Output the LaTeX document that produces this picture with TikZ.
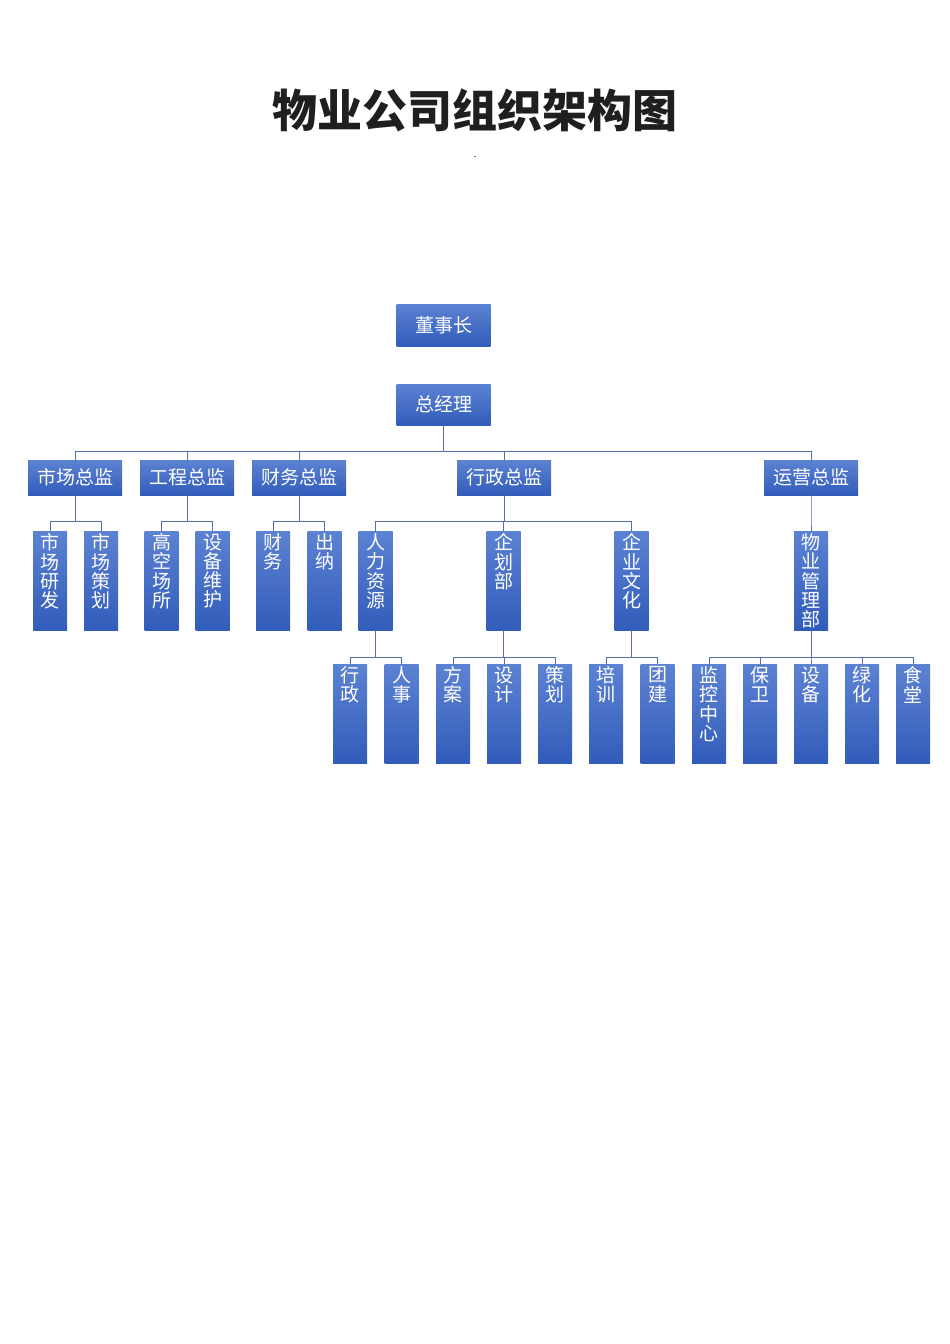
\documentclass[tikz,border=0pt]{standalone}
\usepackage{fontspec}
\setmainfont{Noto Sans CJK SC}
\usetikzlibrary{positioning}

\definecolor{boxtop}{RGB}{92,130,210}
\definecolor{boxbot}{RGB}{50,92,186}
\definecolor{linkc}{RGB}{84,112,172}

% vertical text inside the tall boxes
\newcommand{\vtxt}[1]{\parbox[t][94pt][t]{30pt}{\centering #1}}

\begin{document}
\begin{tikzpicture}[x=1pt, y=-1pt,
    hbox/.style={rectangle, top color=boxtop, bottom color=boxbot, minimum width=94pt, minimum height=35pt, inner sep=0pt, text=white, font=\fontsize{19}{20}\selectfont},
    vbox/.style={rectangle, top color=boxtop, bottom color=boxbot, minimum width=34pt, minimum height=99pt, inner sep=0pt, anchor=north, text=white, font=\fontsize{19}{19.2}\selectfont},
    link/.style={draw=linkc, line width=0.9pt}
]
\useasboundingbox (0,0) rectangle (950,1344);

% Title
\node[font=\fontsize{45}{48}\selectfont\bfseries, text=black!88] (title) at (475,110) {物业公司组织架构图};
\node[font=\small] (dot) at (475,157) {.};

% Top
\node[hbox, minimum height=42pt] (dsz) at (443.5,325) {董事长};
\node[hbox, minimum height=41pt] (zjl) at (443.5,404.5) {总经理};

% Directors
\node[hbox] (scz) at (75,477.5) {市场总监};
\node[hbox] (gcz) at (187,477.5) {工程总监};
\node[hbox] (cwz) at (299,477.5) {财务总监};
\node[hbox] (xzz) at (504,477.5) {行政总监};
\node[hbox] (yyz) at (811,477.5) {运营总监};

% Departments
\node[vbox] (scyf) at (50,531) {\vtxt{市\\场\\研\\发}};
\node[vbox] (scch) at (101,531) {\vtxt{市\\场\\策\\划}};
\node[vbox] (gkcs) at (161.5,531) {\vtxt{高\\空\\场\\所}};
\node[vbox] (sbwh) at (212.5,531) {\vtxt{设\\备\\维\\护}};
\node[vbox] (cw) at (273,531) {\vtxt{财\\务}};
\node[vbox] (cn) at (324.5,531) {\vtxt{出\\纳}};
\node[vbox] (rlzy) at (375.5,531) {\vtxt{人\\力\\资\\源}};
\node[vbox] (qhb) at (503.5,531) {\vtxt{企\\划\\部}};
\node[vbox] (qywh) at (631.5,531) {\vtxt{企\\业\\文\\化}};
\node[vbox] (wygl) at (811,531) {\vtxt{物\\业\\管\\理\\部}};

% Teams
\node[vbox] (xz) at (350,664) {\vtxt{行\\政}};
\node[vbox] (rs) at (401.5,664) {\vtxt{人\\事}};
\node[vbox] (fa) at (453,664) {\vtxt{方\\案}};
\node[vbox] (sj) at (504,664) {\vtxt{设\\计}};
\node[vbox] (ch) at (555,664) {\vtxt{策\\划}};
\node[vbox] (px) at (606,664) {\vtxt{培\\训}};
\node[vbox] (tj) at (657.5,664) {\vtxt{团\\建}};
\node[vbox] (jk) at (709,664) {\vtxt{监\\控\\中\\心}};
\node[vbox] (bw) at (760,664) {\vtxt{保\\卫}};
\node[vbox] (sb) at (811,664) {\vtxt{设\\备}};
\node[vbox] (lh) at (862,664) {\vtxt{绿\\化}};
\node[vbox] (st) at (913,664) {\vtxt{食\\堂}};

% Connectors
\foreach \c in {scz,gcz,cwz,xzz,yyz}
  \draw[link] (zjl.south) -- ++(0,26) -| (\c.north);
\foreach \p/\c in {scz/scyf, scz/scch, gcz/gkcs, gcz/sbwh, cwz/cw, cwz/cn,
                   xzz/rlzy, xzz/qhb, xzz/qywh, yyz/wygl}
  \draw[link] (\p.south) -- ++(0,26) -| (\c.north);
\foreach \p/\c in {rlzy/xz, rlzy/rs, qhb/fa, qhb/sj, qhb/ch, qywh/px, qywh/tj,
                   wygl/jk, wygl/bw, wygl/sb, wygl/lh, wygl/st}
  \draw[link] (\p.south) -- ++(0,27) -| (\c.north);

\end{tikzpicture}
\end{document}
